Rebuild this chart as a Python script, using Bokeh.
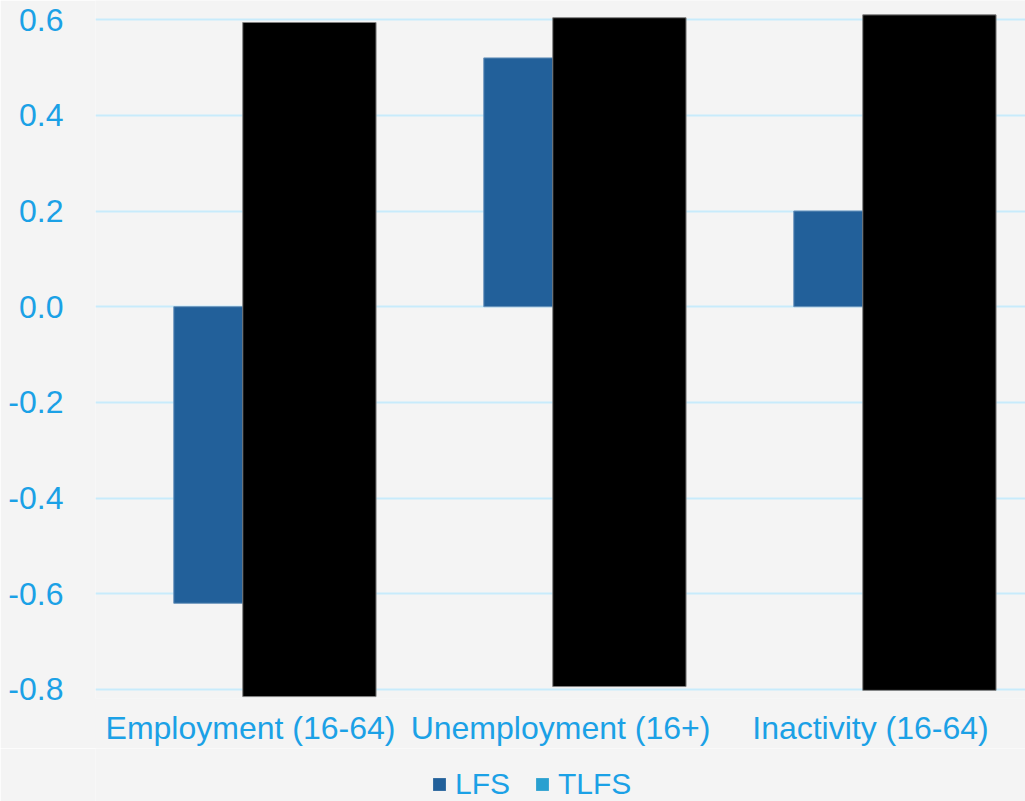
from bokeh.plotting import figure
from bokeh.layouts import column
from bokeh.models import (ColumnDataSource, FactorRange, Range1d, FixedTicker,
                          NumeralTickFormatter, Legend, LegendItem)
from bokeh.transform import dodge
from bokeh.embed import file_html
from bokeh.resources import INLINE

categories = ["Employment (16-64)", "Unemployment (16+)", "Inactivity (16-64)"]
lfs = [-0.62, 0.52, 0.20]
tlfs = [float("nan")] * 3  # TLFS values are obscured in the source
# black redaction boxes covering the TLFS bars (value extents)
mask_top = [0.594, 0.604, 0.61]
mask_bottom = [-0.815, -0.794, -0.802]
y_ticks = [-0.8, -0.6, -0.4, -0.2, 0.0, 0.2, 0.4, 0.6]

LFS_COLOR = "#22609a"
TLFS_COLOR = "#29a0d0"
TEXT = "#1ba1e6"
BG = "#f4f4f4"
FONT = "Liberation Sans"

p = figure(x_range=FactorRange(*categories, range_padding=0),
           y_range=Range1d(-0.819, 0.64),
           width=1025, height=748,
           output_backend="svg", toolbar_location=None,
           background_fill_color=BG, border_fill_color=BG,
           min_border_left=95, min_border_right=0, min_border_top=0,
           min_border_bottom=46)
p.outline_line_color = None

src = ColumnDataSource(dict(cat=categories, lfs=lfs, tlfs=tlfs))
p.vbar(x=dodge("cat", -0.135, range=p.x_range), top="lfs", bottom=0,
       width=0.225, source=src, fill_color=LFS_COLOR,
       line_color="#6a93bb", line_width=1)
p.vbar(x=dodge("cat", 0.09, range=p.x_range), top="tlfs", bottom=0,
       width=0.225, source=src, fill_color=TLFS_COLOR, line_color=None)

msrc = ColumnDataSource(dict(cat=categories, top=mask_top, bottom=mask_bottom))
p.vbar(x=dodge("cat", 0.19, range=p.x_range), top="top", bottom="bottom",
       width=0.43, source=msrc, fill_color="black", line_color="#808080",
       line_width=1)

# axes
p.xaxis.axis_line_color = None
p.xaxis.major_tick_line_color = None
p.xaxis.minor_tick_line_color = None
p.xaxis.major_label_text_color = TEXT
p.xaxis.major_label_text_font = FONT
p.xaxis.major_label_text_font_size = "32px"
p.xaxis.major_label_standoff = 5

p.yaxis.ticker = FixedTicker(ticks=y_ticks)
p.yaxis.formatter = NumeralTickFormatter(format="0.0")
p.yaxis.axis_line_color = None
p.yaxis.major_tick_line_color = None
p.yaxis.minor_tick_line_color = None
p.yaxis.major_label_text_color = TEXT
p.yaxis.major_label_text_font = FONT
p.yaxis.major_label_text_font_size = "32px"
p.yaxis.major_label_standoff = 26

p.xgrid.grid_line_color = None
p.ygrid.grid_line_color = "#c8ebfb"
p.ygrid.grid_line_width = 2

# legend strip below the chart
lg = figure(x_range=FactorRange(*categories, range_padding=0), y_range=Range1d(0, 1),
            width=1025, height=53, output_backend="svg", toolbar_location=None,
            x_axis_location=None, y_axis_location=None,
            background_fill_color=BG, border_fill_color=BG,
            min_border_left=0, min_border_right=0, min_border_top=0,
            min_border_bottom=0)
lg.outline_line_color = None
lg.grid.grid_line_color = None
lsrc = ColumnDataSource(dict(cat=categories, lfs=tlfs, tlfs=tlfs))
r_lfs = lg.vbar(x="cat", top="lfs", width=0.2, source=lsrc,
                fill_color=LFS_COLOR, line_color=None)
r_tlfs = lg.vbar(x="cat", top="tlfs", width=0.2, source=lsrc,
                 fill_color=TLFS_COLOR, line_color=None)

legend = Legend(items=[LegendItem(label="LFS", renderers=[r_lfs]),
                       LegendItem(label="TLFS", renderers=[r_tlfs])],
                orientation="horizontal", location=(336, 0))
legend.background_fill_alpha = 0
legend.border_line_color = None
legend.label_text_color = TEXT
legend.label_text_font = FONT
legend.label_text_font_size = "30px"
legend.glyph_width = 16
legend.glyph_height = 16
legend.label_height = 16
legend.spacing = 24
legend.label_standoff = 8
legend.padding = 0
legend.margin = 0
lg.add_layout(legend)

layout = column(p, lg, spacing=0)
open("out.html", "w").write(file_html(layout, INLINE))
